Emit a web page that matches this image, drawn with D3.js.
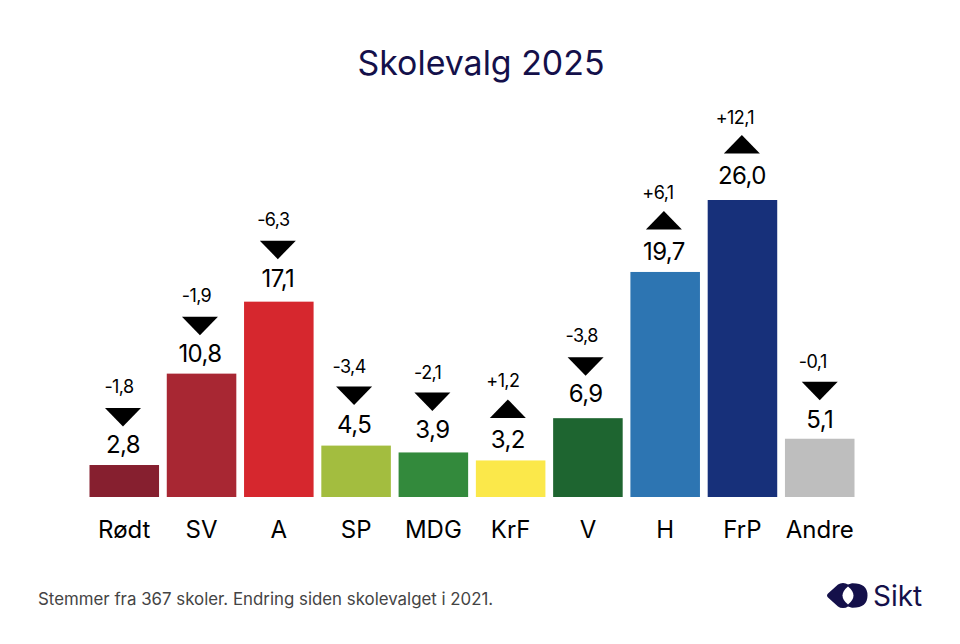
<!DOCTYPE html>
<html lang="no">
<head>
<meta charset="utf-8">
<title>Skolevalg 2025</title>
<script src="https://cdnjs.cloudflare.com/ajax/libs/d3/7.8.5/d3.min.js"></script>
<style>
  html, body { margin: 0; padding: 0; background: #fff; }
  svg { display: block; }
  text { font-family: Inter, "Noto Sans", sans-serif; }
</style>
</head>
<body>
<svg id="chart" width="960" height="644"></svg>
<script>
const parties = ['Rødt', 'SV', 'A', 'SP', 'MDG', 'KrF', 'V', 'H', 'FrP', 'Andre'];
const shares = [2.8, 10.8, 17.1, 4.5, 3.9, 3.2, 6.9, 19.7, 26.0, 5.1];
const changes = [-1.8, -1.9, -6.3, -3.4, -2.1, 1.2, -3.8, 6.1, 12.1, -0.1];
const colours = ['#861f2f', '#a82733', '#d6272e', '#a3bd3f', '#338a3c', '#fbe84a', '#1e6530', '#2d75b2', '#17307a', '#bebebe'];

const INK = '#000';
const NAVY = '#14104a';
const BASELINE = 497;

// labels were placed by hand in the original, so each party has its own gaps
const LABEL_GAPS = {
    'Rødt': { value: 12, arrow: 57, change: 72, dx: -1.3, changeDx: -4 },
    'SV': { value: 12, arrow: 57, change: 72, dx: -1.6, changeDx: -3.5 },
    'A': { value: 15, arrow: 61, change: 76, dx: -1, changeDx: -4.5 },
    'SP': { value: 13, arrow: 59, change: 73, dx: -2, changeDx: -5 },
    'MDG': { value: 14, arrow: 60, change: 73, dx: -1, changeDx: -4.7 },
    'KrF': { value: 12, arrow: 61, change: 73, dx: -2.8, changeDx: -5 },
    'V': { value: 16, arrow: 61, change: 76, dx: -2.3, changeDx: -4 },
    'H': { value: 12, arrow: 61, change: 73, dx: -1.3, changeDx: -6 },
    'FrP': { value: 16, arrow: 65, change: 76, dx: -0.6, changeDx: -7 },
    'Andre': { value: 11, arrow: 57, change: 71, dx: 0, changeDx: -7 }
};

const comma = v => v.toFixed(1).replace('.', ',');
const signed = v => (v > 0 ? '+' : '-') + comma(Math.abs(v));

const $svg = d3.select('#chart');

const x = d3.scaleBand().domain(parties).range([89.5, 854.5]).paddingInner(0.1);
const y = d3.scaleLinear().domain([0, 26]).range([BASELINE, 200]);

const data = parties.map((d, i) => ({ party: d, share: shares[i], change: changes[i], colour: colours[i], gaps: LABEL_GAPS[d] }));

$svg.append('text')
    .attr('x', 481).attr('y', 75)
    .attr('text-anchor', 'middle')
    .attr('font-size', 33.9)
    .attr('fill', NAVY)
    .text('Skolevalg 2025');

const group = $svg.selectAll('.party')
    .data(data)
    .enter().append('g')
    .attr('class', 'party')
    .attr('transform', d => `translate(${x(d.party) + x.bandwidth() / 2}, 0)`);

group.append('rect')
    .attr('x', -x.bandwidth() / 2)
    .attr('y', d => y(d.share))
    .attr('width', x.bandwidth())
    .attr('height', d => BASELINE - y(d.share))
    .attr('fill', d => d.colour);

// value above the bar
group.append('text')
    .attr('x', d => d.gaps.dx)
    .attr('y', d => y(d.share) - d.gaps.value)
    .attr('text-anchor', 'middle')
    .attr('font-size', 24)
    .attr('letter-spacing', -0.6)
    .attr('fill', INK)
    .text(d => comma(d.share));

// arrow: up or down
group.append('path')
    .attr('transform', d => `translate(${d.gaps.dx}, ${y(d.share) - d.gaps.arrow})`)
    .attr('d', d => d.change > 0 ? 'M-18,18.5 L0,0 L18,18.5 Z' : 'M-18,0 L18,0 L0,18.5 Z')
    .attr('fill', INK);

// change since last election
group.append('text')
    .attr('x', d => d.gaps.dx + d.gaps.changeDx)
    .attr('y', d => y(d.share) - d.gaps.change)
    .attr('text-anchor', 'middle')
    .attr('font-size', 18)
    .attr('letter-spacing', -0.6)
    .attr('fill', INK)
    .text(d => signed(d.change));

// party names
group.append('text')
    .attr('y', 537.5)
    .attr('text-anchor', 'middle')
    .attr('font-size', 24)
    .attr('fill', INK)
    .text(d => d.party);

$svg.append('text')
    .attr('x', 38).attr('y', 605)
    .attr('font-size', 16.85)
    .attr('fill', '#444')
    .text('Stemmer fra 367 skoler. Endring siden skolevalget i 2021.');

// logo
const logo = $svg.append('g').attr('fill', NAVY);
logo.append('path')
    .attr('d', 'M828,593.5 L838,584.5 Q840,583 843,583 Q846,583 848,584.5 L852,583.3 Q867.5,583 867.5,595.5 Q867.5,608 852,607.7 L848,606.5 Q846,608 843,608 Q840,608 838,606.5 L828,597.5 Q826,595.5 828,593.5 Z');
logo.append('path')
    .attr('d', 'M848,586.5 Q853.5,591 853.5,595.5 Q853.5,600 848,604.5 Q842.5,600 842.5,595.5 Q842.5,591 848,586.5 Z')
    .attr('fill', '#fff');
logo.append('text')
    .attr('x', 873).attr('y', 606)
    .attr('font-size', 28)
    .text('Sikt');
</script>
</body>
</html>
